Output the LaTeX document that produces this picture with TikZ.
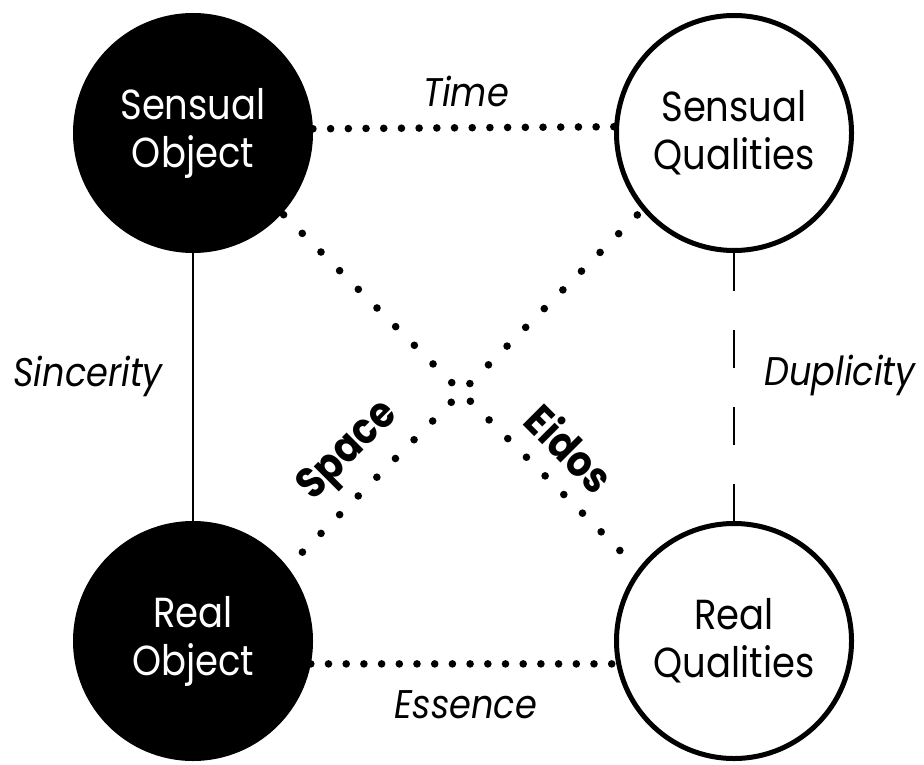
\documentclass[tikz,border=0pt]{standalone}
\usepackage{fontspec}
\setmainfont{Poppins}[FakeStretch=0.88]
\usepackage{tikz}
\usetikzlibrary{positioning,calc}

\tikzset{
  thing/.style={circle,draw=black,line width=2.5pt,minimum size=117.5pt,
    inner sep=0pt,align=center,font=\fontsize{21}{24}\selectfont},
  object/.style={thing,fill=black,text=white},
  quality/.style={thing,fill=white},
  dots/.style={line width=3.8pt,line cap=round,dash pattern=on 0pt off 8.85pt},
  crossdots/.style={line width=3.8pt,line cap=round,dash pattern=on 0pt off 13.2pt},
  relation/.style={font=\fontsize{20}{24}\selectfont\itshape},
  crossing/.style={font=\fontsize{21.5}{24}\selectfont\bfseries}
}

\begin{document}
\begin{tikzpicture}[x=0.5pt,y=-0.5pt]
            \useasboundingbox (0,0) rectangle (924,764);
            \node[object](so) at (193,133) {Sensual\\Object};
            \node[quality](sq) at (734,133) {Sensual\\Qualities};
            \node[object](ro) at (193,641) {Real\\Object};
            \node[quality](rq) at (734,641) {Real\\Qualities};
            \draw[line width=1pt] (so) -- (ro);
            \draw[line width=1pt,dash pattern=on 19pt off 19.5pt] (sq) -- (rq);
            \draw[dots] (so.2.4) -- (sq.177.6);
            \draw[dots] (ro.-11.5) -- (rq.191.5);
            \draw[crossdots,dash phase=12.2pt] (so.-42.5) -- (rq.143.6);
            \draw[crossdots,dash phase=9.8pt] (sq.220.3) -- (ro.38.6);
            \node[relation,anchor=base](time) at (466,107) {Time};
            \node[relation,anchor=base](essence) at (466,718) {Essence};
            \node[relation,anchor=base](sincerity) at (88,386) {Sincerity};
            \node[relation,anchor=base](duplicity) at (840,385) {Duplicity};
            \node[crossing,rotate=45](space) at (349,452) {Space};
            \node[crossing,rotate=-45](eidos) at (570,448) {Eidos};
        \end{tikzpicture}
\end{document}
